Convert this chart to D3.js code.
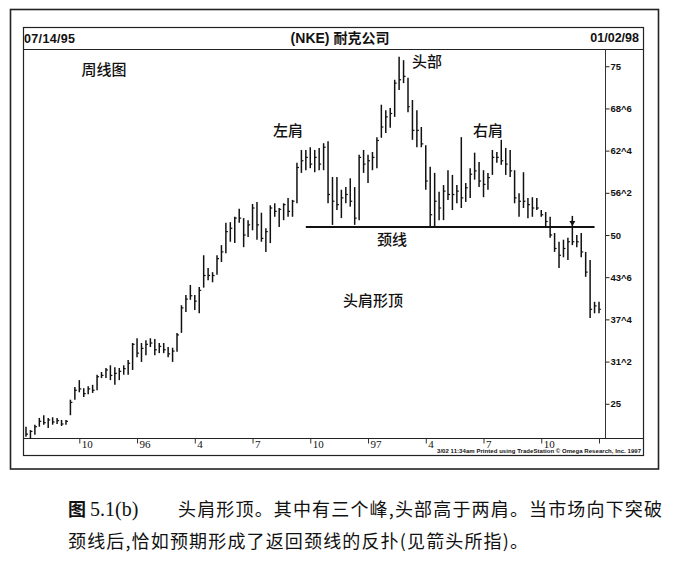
<!DOCTYPE html>
<html>
<head>
<meta charset="utf-8">
<script src="https://cdn.jsdelivr.net/npm/d3@7"></script>
<style>
  body { margin: 0; background: #fff; }
  text { fill: #111; }
</style>
</head>
<body>
<svg id="chart" width="683" height="565"></svg>
<script>
// NKE weekly bars, first bar dated 07/14/95, one bar per week
const firstWeek = "1995-07-14";
const weekHigh = [
  21.6, 21.1, 21.9, 22.9, 23.3, 22.9, 23.0, 22.9, 22.6, 22.6,
  25.6, 27.5, 28.5, 27.3, 27.6, 27.8, 29.3, 29.7, 30.3, 30.7,
  30.4, 30.3, 30.7, 31.5, 34.0, 34.7, 34.0, 34.4, 34.7, 34.6,
  34.0, 34.0, 33.4, 33.3, 35.5, 39.6, 41.1, 42.6, 41.1, 42.3,
  47.0, 45.1, 44.5, 47.0, 48.5, 51.8, 51.9, 52.7, 53.9, 52.5,
  52.2, 54.6, 54.9, 53.3, 51.0, 54.4, 54.7, 54.0, 54.7, 55.5,
  55.2, 60.7, 62.6, 62.6, 63.0, 62.6, 62.9, 63.6, 63.9, 58.6,
  58.6, 56.7, 57.1, 58.4, 57.1, 61.9, 62.6, 61.9, 62.3, 64.5,
  69.3, 68.5, 68.8, 73.0, 76.4, 75.9, 73.3, 70.0, 68.5, 66.0,
  63.3, 60.1, 59.2, 56.4, 57.4, 59.6, 58.9, 57.4, 64.5, 57.7,
  59.9, 62.2, 60.8, 59.6, 59.2, 62.6, 62.3, 64.1, 62.9, 62.6,
  59.6, 56.2, 59.3, 55.5, 55.6, 55.5, 53.7, 53.4, 52.7, 50.3,
  49.0, 49.3, 49.6, 52.2, 50.0, 50.3, 47.5, 46.3, 40.1, 40.1
];
const weekLow = [
  20.1, 19.9, 20.4, 21.6, 21.9, 21.4, 21.9, 22.0, 21.7, 21.9,
  23.3, 25.6, 26.7, 26.0, 26.4, 26.6, 27.0, 28.8, 28.8, 28.5,
  27.8, 28.5, 29.3, 29.3, 30.0, 31.9, 31.2, 32.2, 33.4, 32.2,
  32.5, 32.5, 31.9, 31.2, 32.7, 35.5, 38.6, 40.4, 38.9, 38.4,
  42.2, 43.3, 43.0, 44.1, 46.0, 47.3, 49.0, 48.8, 51.8, 48.2,
  49.7, 50.7, 49.3, 49.0, 47.5, 48.8, 52.7, 51.2, 52.2, 52.7,
  52.7, 54.7, 59.2, 59.6, 59.9, 59.3, 59.6, 59.6, 54.7, 51.5,
  53.7, 52.5, 54.7, 54.2, 51.5, 52.2, 59.2, 57.7, 59.6, 59.9,
  64.4, 65.1, 65.9, 67.5, 71.5, 72.5, 68.2, 64.1, 63.0, 63.0,
  56.7, 51.2, 51.2, 52.2, 52.2, 55.2, 53.7, 54.7, 54.0, 54.9,
  55.5, 58.2, 57.1, 55.6, 56.7, 58.9, 60.7, 60.4, 58.9, 58.6,
  54.7, 52.7, 54.0, 52.5, 52.7, 53.7, 52.7, 51.2, 49.6, 47.5,
  45.1, 46.7, 46.3, 48.5, 48.2, 46.7, 43.8, 37.7, 38.4, 38.4
];
const weekClose = [
  20.5, 20.9, 21.6, 22.4, 22.2, 22.6, 22.3, 22.5, 22.0, 22.4,
  25.2, 27.0, 27.2, 26.5, 27.2, 27.0, 29.0, 29.2, 30.0, 29.2,
  29.5, 29.8, 30.2, 31.0, 33.8, 32.5, 33.2, 33.8, 34.0, 33.0,
  33.5, 33.0, 32.4, 32.8, 35.2, 39.2, 40.5, 41.0, 40.2, 41.8,
  44.0, 44.0, 44.0, 46.5, 47.5, 50.5, 51.0, 52.5, 52.5, 50.0,
  51.5, 54.0, 51.5, 49.5, 50.5, 54.0, 53.5, 53.8, 54.5, 53.5,
  55.0, 60.0, 61.0, 61.5, 60.5, 61.5, 60.5, 63.0, 56.0, 55.0,
  54.5, 55.5, 56.0, 55.0, 52.5, 61.5, 60.5, 61.0, 61.5, 64.0,
  66.0, 67.5, 68.0, 72.5, 73.0, 73.5, 69.0, 65.5, 65.5, 63.5,
  58.0, 53.0, 55.0, 54.0, 56.5, 56.0, 56.0, 56.5, 55.5, 57.0,
  59.0, 59.5, 58.0, 57.5, 58.5, 61.5, 61.5, 61.0, 60.5, 59.5,
  55.5, 55.0, 55.0, 54.5, 54.0, 54.0, 53.0, 52.0, 50.0, 48.0,
  47.0, 48.0, 49.0, 49.0, 49.0, 47.5, 44.5, 39.0, 39.5, 39.0
];

// price axis (eighths notation)
const priceTicks = [75, 68.75, 62.5, 56.25, 50, 43.75, 37.5, 31.25, 25];
const priceTickLabels = ["75", "68^6", "62^4", "56^2", "50", "43^6", "37^4", "31^2", "25"];

// first bar of each quarter month
const monthTicks = ["1995-10-06", "1996-01-05", "1996-04-05", "1996-07-05", "1996-10-04",
                    "1997-01-03", "1997-04-04", "1997-07-04", "1997-10-03", "1998-01-02"];
const monthTickLabels = ["10", "96", "4", "7", "10", "97", "4", "7", "10", ""];

// neckline and pullback marker
const necklinePrice = 51.2;
const necklineFrom = "1996-09-27";
const necklineTo = "1997-12-26";
const pullbackWeek = "1997-11-21";

const parse = d3.utcParse("%Y-%m-%d");
const start = parse(firstWeek);
const bars = weekHigh.map((h, i) => ({
  date: d3.utcDay.offset(start, 7 * i),
  high: h, low: weekLow[i], close: weekClose[i]
}));

const svg = d3.select("#chart");

// frame geometry
const outer = { x0: 10.5, y0: 9.5, x1: 658.5, y1: 469 };
const inner = { x0: 23.5, y0: 27.5, x1: 643.5, y1: 455.5 };
const headerY = 49.5;
const axisY = 438.5;
const axisX = 605.5;

const x = d3.scaleUtc()
  .domain([bars[0].date, bars[bars.length - 1].date])
  .range([26, 599]);
const y = d3.scaleLinear().domain([25, 75]).range([403.75, 66.25]);

// frames
svg.append("rect")
  .attr("x", outer.x0).attr("y", outer.y0)
  .attr("width", outer.x1 - outer.x0).attr("height", outer.y1 - outer.y0)
  .attr("fill", "none").attr("stroke", "#222").attr("stroke-width", 1.6);
svg.append("rect")
  .attr("x", inner.x0).attr("y", inner.y0)
  .attr("width", inner.x1 - inner.x0).attr("height", inner.y1 - inner.y0)
  .attr("fill", "none").attr("stroke", "#222").attr("stroke-width", 1.2);
svg.append("line")
  .attr("x1", inner.x0).attr("x2", inner.x1).attr("y1", headerY).attr("y2", headerY)
  .attr("stroke", "#222").attr("stroke-width", 1.2);

// header
svg.append("text").attr("x", 24).attr("y", 43)
  .attr("font-family", "Liberation Sans, Arial, sans-serif").attr("font-weight", "bold")
  .attr("font-size", 12.5).attr("textLength", 51).text("07/14/95");
svg.append("text").attr("x", 639).attr("y", 42).attr("text-anchor", "end")
  .attr("font-family", "Liberation Sans, Arial, sans-serif").attr("font-weight", "bold")
  .attr("font-size", 12.5).text("01/02/98");
svg.append("text").attr("x", 340).attr("y", 43).attr("text-anchor", "middle")
  .attr("font-family", "Liberation Sans, 'Noto Sans CJK SC', sans-serif")
  .attr("font-size", 14).attr("font-weight", "bold").text("(NKE) 耐克公司");

// price axis on the right
const yAxis = d3.axisRight(y)
  .tickValues(priceTicks)
  .tickSize(4).tickPadding(1)
  .tickFormat((d, i) => priceTickLabels[i]);
const yg = svg.append("g").attr("transform", `translate(${axisX},0)`).call(yAxis);
yg.select(".domain").remove();
yg.selectAll(".tick line").attr("stroke", "#222").attr("stroke-width", 1);
yg.selectAll(".tick text")
  .attr("font-family", "Liberation Sans, Arial, sans-serif")
  .attr("font-weight", "bold").attr("font-size", 9.5).attr("fill", "#111");
svg.append("line")
  .attr("x1", axisX).attr("x2", axisX).attr("y1", headerY).attr("y2", axisY)
  .attr("stroke", "#333").attr("stroke-width", 1);

// time axis
svg.append("line")
  .attr("x1", inner.x0).attr("x2", inner.x1).attr("y1", axisY).attr("y2", axisY)
  .attr("stroke", "#222").attr("stroke-width", 1.2);
const xAxis = d3.axisBottom(x)
  .tickValues(monthTicks.map(parse))
  .tickSize(5).tickPadding(0)
  .tickFormat((d, i) => monthTickLabels[i]);
const xg = svg.append("g").attr("transform", `translate(0,${axisY})`).call(xAxis);
xg.select(".domain").remove();
xg.selectAll(".tick line").attr("stroke", "#333").attr("stroke-width", 1);
xg.selectAll(".tick text")
  .attr("text-anchor", "start").attr("dx", 2).attr("dy", 0).attr("y", 9)
  .attr("font-family", "Liberation Serif, Times New Roman, serif")
  .attr("font-size", 11).attr("fill", "#111");

svg.append("text").attr("x", 641).attr("y", 453).attr("text-anchor", "end")
  .attr("font-family", "Liberation Sans Narrow, Liberation Sans, Arial, sans-serif")
  .attr("font-size", 6).attr("font-weight", "bold").attr("textLength", 204)
  .text("3/02 11:34am Printed using TradeStation © Omega Research, Inc. 1997");

// weekly bars: high-low range with close tick
const gBars = svg.append("g").attr("stroke", "#111");
gBars.selectAll("line.range").data(bars).join("line")
  .attr("class", "range")
  .attr("x1", d => x(d.date)).attr("x2", d => x(d.date))
  .attr("y1", d => y(d.high)).attr("y2", d => y(d.low))
  .attr("stroke-width", 1.5);
gBars.selectAll("line.close").data(bars).join("line")
  .attr("class", "close")
  .attr("x1", d => x(d.date)).attr("x2", d => x(d.date) + 2)
  .attr("y1", d => y(d.close)).attr("y2", d => y(d.close))
  .attr("stroke-width", 1.2);

// neckline
svg.append("line")
  .attr("x1", x(parse(necklineFrom))).attr("x2", x(parse(necklineTo)))
  .attr("y1", y(necklinePrice)).attr("y2", y(necklinePrice))
  .attr("stroke", "#111").attr("stroke-width", 2);

// pullback arrow
const ax = x(parse(pullbackWeek));
const ay = y(necklinePrice);
svg.append("line").attr("x1", ax).attr("x2", ax).attr("y1", ay - 11).attr("y2", ay - 4)
  .attr("stroke", "#111").attr("stroke-width", 1.5);
svg.append("path")
  .attr("d", `M${ax - 3},${ay - 6} L${ax + 3},${ay - 6} L${ax},${ay - 1} Z`)
  .attr("fill", "#111");

// pattern annotations
const note = (tx, ty, s, size) => svg.append("text")
  .attr("x", tx).attr("y", ty).attr("text-anchor", "middle")
  .attr("font-family", "'Noto Sans CJK SC', sans-serif")
  .attr("font-size", size || 15).attr("font-weight", 500).text(s);
note(104, 75, "周线图");
note(288, 136, "左肩");
note(427, 67, "头部");
note(488, 136, "右肩");
note(392, 245, "颈线");
note(373, 306, "头肩形顶");

// caption
const cap = svg.append("g").attr("font-family", "'Noto Sans CJK SC', sans-serif").attr("font-size", 18);
const c1 = cap.append("text").attr("x", 68).attr("y", 516);
c1.append("tspan").attr("font-weight", "bold").text("图 ");
c1.append("tspan").attr("font-family", "Liberation Serif, serif").attr("font-size", 20).text("5.1(b)");
cap.append("text").attr("x", 178).attr("y", 516)
  .attr("textLength", 484).attr("lengthAdjust", "spacing")
  .text("头肩形顶。其中有三个峰,头部高于两肩。当市场向下突破");
cap.append("text").attr("x", 68).attr("y", 548)
  .attr("textLength", 460).attr("lengthAdjust", "spacing")
  .text("颈线后,恰如预期形成了返回颈线的反扑(见箭头所指)。");
</script>
</body>
</html>
